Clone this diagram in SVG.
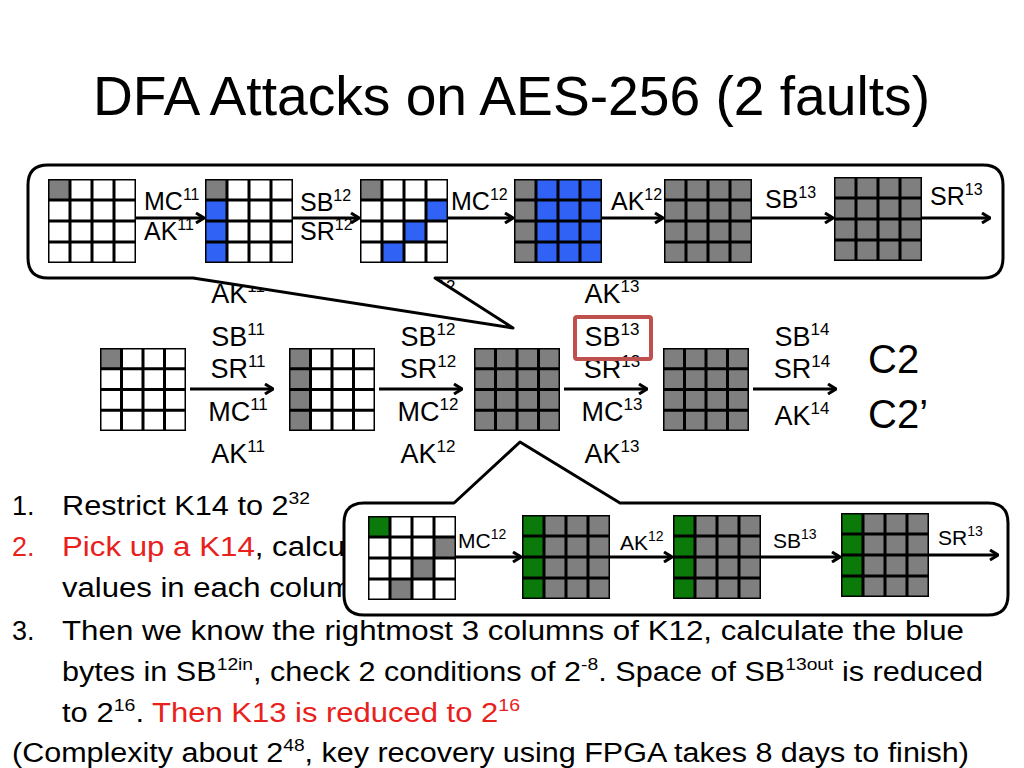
<svg xmlns="http://www.w3.org/2000/svg" xmlns:xlink="http://www.w3.org/1999/xlink" width="1024" height="768" viewBox="0 0 1024 768">
<style>
text{font-family:"Liberation Sans",Arial,sans-serif;fill:#000}
.t{font-size:56px}
.m{font-size:25px}
.s{font-size:21px}
.b{font-size:27px}
.r{fill:#e8211c}
.gl{fill:none;stroke:#000;stroke-width:3}
.ar{stroke:#000;stroke-width:3;fill:none;marker-end:url(#ah)}
.co{fill:#fff;stroke:#000;stroke-width:3;stroke-linejoin:round}
.gy{fill:#7f7f7f}.bl{fill:#2f62f5}.gn{fill:#0b7a0b}.wh{fill:#fff}
</style>
<defs>
<marker id="ah" markerWidth="10" markerHeight="12" refX="8" refY="6" orient="auto" markerUnits="userSpaceOnUse"><path d="M1,1 L9,6 L1,11" fill="none" stroke="#000" stroke-width="3"/></marker>
<symbol id="grid" viewBox="0 0 4 4" preserveAspectRatio="none"><path d="M0 0H4V4H0Z M1 0V4 M2 0V4 M3 0V4 M0 1H4 M0 2H4 M0 3H4" fill="none" stroke="#000" stroke-width="3" vector-effect="non-scaling-stroke"/></symbol>
</defs>
<rect width="1024" height="768" fill="#fff"/>
<text class="t" x="93" y="115" textLength="837" lengthAdjust="spacingAndGlyphs">DFA Attacks on AES-256 (2 faults)</text>

<!-- middle row -->
<g id="mid-g1"><rect class="wh" x="100" y="348" width="86" height="83"/><rect class="gy" x="100" y="348" width="21.5" height="20.75"/><use xlink:href="#grid" x="100" y="348" width="86" height="83"/></g>
<g id="mid-g2"><rect class="wh" x="289" y="348" width="86" height="83"/><rect class="gy" x="289" y="348" width="21.5" height="83"/><use xlink:href="#grid" x="289" y="348" width="86" height="83"/></g>
<g id="mid-g3"><rect class="gy" x="474" y="348" width="86" height="83"/><use xlink:href="#grid" x="474" y="348" width="86" height="83"/></g>
<g id="mid-g4"><rect class="gy" x="663" y="348" width="86" height="83"/><use xlink:href="#grid" x="663" y="348" width="86" height="83"/></g>
<g id="mid-out"><text x="868" y="373" style="font-size:40px">C2</text><text x="868" y="428" style="font-size:40px">C2’</text></g>
<g id="mid-connectors">
<line class="ar" x1="190" y1="389" x2="272" y2="389"/>
<line class="ar" x1="379" y1="389" x2="461" y2="389"/>
<line class="ar" x1="564" y1="389" x2="646" y2="389"/>
<line class="ar" x1="753" y1="389" x2="835" y2="389"/>
</g>
<g id="mid-labels" class="b" text-anchor="middle">
<text x="238" y="303">AK<tspan dy="-11" style="font-size:17px">11</tspan></text>
<text x="238" y="346">SB<tspan dy="-11" style="font-size:17px">11</tspan></text>
<text x="238" y="378">SR<tspan dy="-11" style="font-size:17px">11</tspan></text>
<text x="238" y="421">MC<tspan dy="-11" style="font-size:17px">11</tspan></text>
<text x="238" y="463">AK<tspan dy="-11" style="font-size:17px">11</tspan></text>
<text x="428" y="303">AK<tspan dy="-11" style="font-size:17px">12</tspan></text>
<text x="428" y="346">SB<tspan dy="-11" style="font-size:17px">12</tspan></text>
<text x="428" y="378">SR<tspan dy="-11" style="font-size:17px">12</tspan></text>
<text x="428" y="421">MC<tspan dy="-11" style="font-size:17px">12</tspan></text>
<text x="428" y="463">AK<tspan dy="-11" style="font-size:17px">12</tspan></text>
<text x="612" y="303">AK<tspan dy="-11" style="font-size:17px">13</tspan></text>
<text x="612" y="346">SB<tspan dy="-11" style="font-size:17px">13</tspan></text>
<text x="612" y="378">SR<tspan dy="-11" style="font-size:17px">13</tspan></text>
<text x="612" y="421">MC<tspan dy="-11" style="font-size:17px">13</tspan></text>
<text x="612" y="463">AK<tspan dy="-11" style="font-size:17px">13</tspan></text>
<text x="802" y="346">SB<tspan dy="-11" style="font-size:17px">14</tspan></text>
<text x="802" y="378">SR<tspan dy="-11" style="font-size:17px">14</tspan></text>
<text x="802" y="425">AK<tspan dy="-11" style="font-size:17px">14</tspan></text>
</g>
<rect id="hl" x="575" y="317" width="76" height="42" fill="none" stroke="#c0504d" stroke-width="4" rx="2"/>

<!-- bottom text -->
<g id="notes" class="b">
<text x="12" y="515">1.</text>
<text x="62" y="515" textLength="248" lengthAdjust="spacingAndGlyphs">Restrict K14 to 2<tspan dy="-11" style="font-size:17px">32</tspan></text>
<text x="12" y="556" class="r">2.</text>
<text x="62" y="556" textLength="290" lengthAdjust="spacingAndGlyphs"><tspan class="r">Pick up a K14</tspan>, calcul</text>
<text x="62" y="597" textLength="290" lengthAdjust="spacingAndGlyphs">values in each colum</text>
<text x="12" y="640">3.</text>
<text x="62" y="640" textLength="902" lengthAdjust="spacingAndGlyphs">Then we know the rightmost 3 columns of K12, calculate the blue</text>
<text x="62" y="681" textLength="921" lengthAdjust="spacingAndGlyphs">bytes in SB<tspan dy="-11" style="font-size:17px">12in</tspan><tspan dy="11">, check 2 conditions of 2</tspan><tspan dy="-11" style="font-size:17px">-8</tspan><tspan dy="11">. Space of SB</tspan><tspan dy="-11" style="font-size:17px">13out</tspan><tspan dy="11"> is reduced</tspan></text>
<text x="62" y="722" textLength="458" lengthAdjust="spacingAndGlyphs">to 2<tspan dy="-11" style="font-size:17px">16</tspan><tspan dy="11">. </tspan><tspan class="r">Then K13 is reduced to 2</tspan><tspan class="r" dy="-11" style="font-size:17px">16</tspan></text>
<text x="12" y="762" textLength="957" lengthAdjust="spacingAndGlyphs">(Complexity about 2<tspan dy="-11" style="font-size:17px">48</tspan><tspan dy="11">, key recovery using FPGA takes 8 days to finish)</tspan></text>
</g>

<!-- bottom callout -->
<path id="callout-bottom" class="co" d="M364,503 H454 L520,442 L620,503 H988 Q1008,503 1008,523 V595 Q1008,615 988,615 H364 Q344,615 344,595 V523 Q344,503 364,503 Z"/>
<g id="bot-g1"><rect class="wh" x="368" y="516" width="88" height="84"/><rect class="gn" x="368" y="516" width="22" height="21"/><rect class="gy" x="434" y="537" width="22" height="21"/><rect class="gy" x="412" y="558" width="22" height="21"/><rect class="gy" x="390" y="579" width="22" height="21"/><use xlink:href="#grid" x="368" y="516" width="88" height="84"/></g>
<g id="bot-g2"><rect class="gy" x="522" y="515" width="88" height="84"/><rect class="gn" x="522" y="515" width="22" height="84"/><use xlink:href="#grid" x="522" y="515" width="88" height="84"/></g>
<g id="bot-g3"><rect class="gy" x="673" y="515" width="88" height="84"/><rect class="gn" x="673" y="515" width="22" height="84"/><use xlink:href="#grid" x="673" y="515" width="88" height="84"/></g>
<g id="bot-g4"><rect class="gy" x="841" y="513" width="88" height="84"/><rect class="gn" x="841" y="513" width="22" height="84"/><use xlink:href="#grid" x="841" y="513" width="88" height="84"/></g>
<g id="bot-connectors">
<line class="ar" x1="456" y1="557" x2="520" y2="557"/>
<line class="ar" x1="610" y1="557" x2="671" y2="557"/>
<line class="ar" x1="761" y1="557" x2="839" y2="557"/>
<line class="ar" x1="929" y1="555" x2="997" y2="555"/>
</g>
<g id="bot-labels" class="s">
<text x="458" y="548">MC<tspan dy="-9" style="font-size:14px">12</tspan></text>
<text x="620" y="550">AK<tspan dy="-9" style="font-size:14px">12</tspan></text>
<text x="773" y="548">SB<tspan dy="-9" style="font-size:14px">13</tspan></text>
<text x="938" y="545">SR<tspan dy="-9" style="font-size:14px">13</tspan></text>
</g>

<!-- top callout -->
<path id="callout-top" class="co" d="M48,165 H983 Q1003,165 1003,185 V258 Q1003,278 983,278 H435 L513,328 L193,278 H48 Q28,278 28,258 V185 Q28,165 48,165 Z"/>
<g id="top-g1"><rect class="wh" x="48" y="179" width="88" height="84"/><rect class="gy" x="48" y="179" width="22" height="21"/><use xlink:href="#grid" x="48" y="179" width="88" height="84"/></g>
<g id="top-g2"><rect class="wh" x="205" y="179" width="88" height="84"/><rect class="gy" x="205" y="179" width="22" height="21"/><rect class="bl" x="205" y="200" width="22" height="63"/><use xlink:href="#grid" x="205" y="179" width="88" height="84"/></g>
<g id="top-g3"><rect class="wh" x="360" y="179" width="88" height="84"/><rect class="gy" x="360" y="179" width="22" height="21"/><rect class="bl" x="426" y="200" width="22" height="21"/><rect class="bl" x="404" y="221" width="22" height="21"/><rect class="bl" x="382" y="242" width="22" height="21"/><use xlink:href="#grid" x="360" y="179" width="88" height="84"/></g>
<g id="top-g4"><rect class="bl" x="514" y="179" width="88" height="84"/><rect class="gy" x="514" y="179" width="22" height="84"/><use xlink:href="#grid" x="514" y="179" width="88" height="84"/></g>
<g id="top-g5"><rect class="gy" x="664" y="179" width="88" height="84"/><use xlink:href="#grid" x="664" y="179" width="88" height="84"/></g>
<g id="top-g6"><rect class="gy" x="834" y="177" width="88" height="84"/><use xlink:href="#grid" x="834" y="177" width="88" height="84"/></g>
<g id="top-connectors">
<line class="ar" x1="136" y1="218" x2="203" y2="218"/>
<line class="ar" x1="293" y1="218" x2="358" y2="218"/>
<line class="ar" x1="448" y1="218" x2="512" y2="218"/>
<line class="ar" x1="602" y1="218" x2="662" y2="218"/>
<line class="ar" x1="752" y1="218" x2="832" y2="218"/>
<line class="ar" x1="922" y1="218" x2="989" y2="218"/>
</g>
<g id="top-labels" class="m">
<text x="144" y="210">MC<tspan dy="-10" style="font-size:16px">11</tspan></text>
<text x="144" y="240">AK<tspan dy="-10" style="font-size:16px">11</tspan></text>
<text x="300" y="211">SB<tspan dy="-10" style="font-size:16px">12</tspan></text>
<text x="300" y="240">SR<tspan dy="-10" style="font-size:16px">12</tspan></text>
<text x="451" y="210">MC<tspan dy="-10" style="font-size:16px">12</tspan></text>
<text x="611" y="210">AK<tspan dy="-10" style="font-size:16px">12</tspan></text>
<text x="765" y="208">SB<tspan dy="-10" style="font-size:16px">13</tspan></text>
<text x="930" y="205">SR<tspan dy="-10" style="font-size:16px">13</tspan></text>
</g>
</svg>
